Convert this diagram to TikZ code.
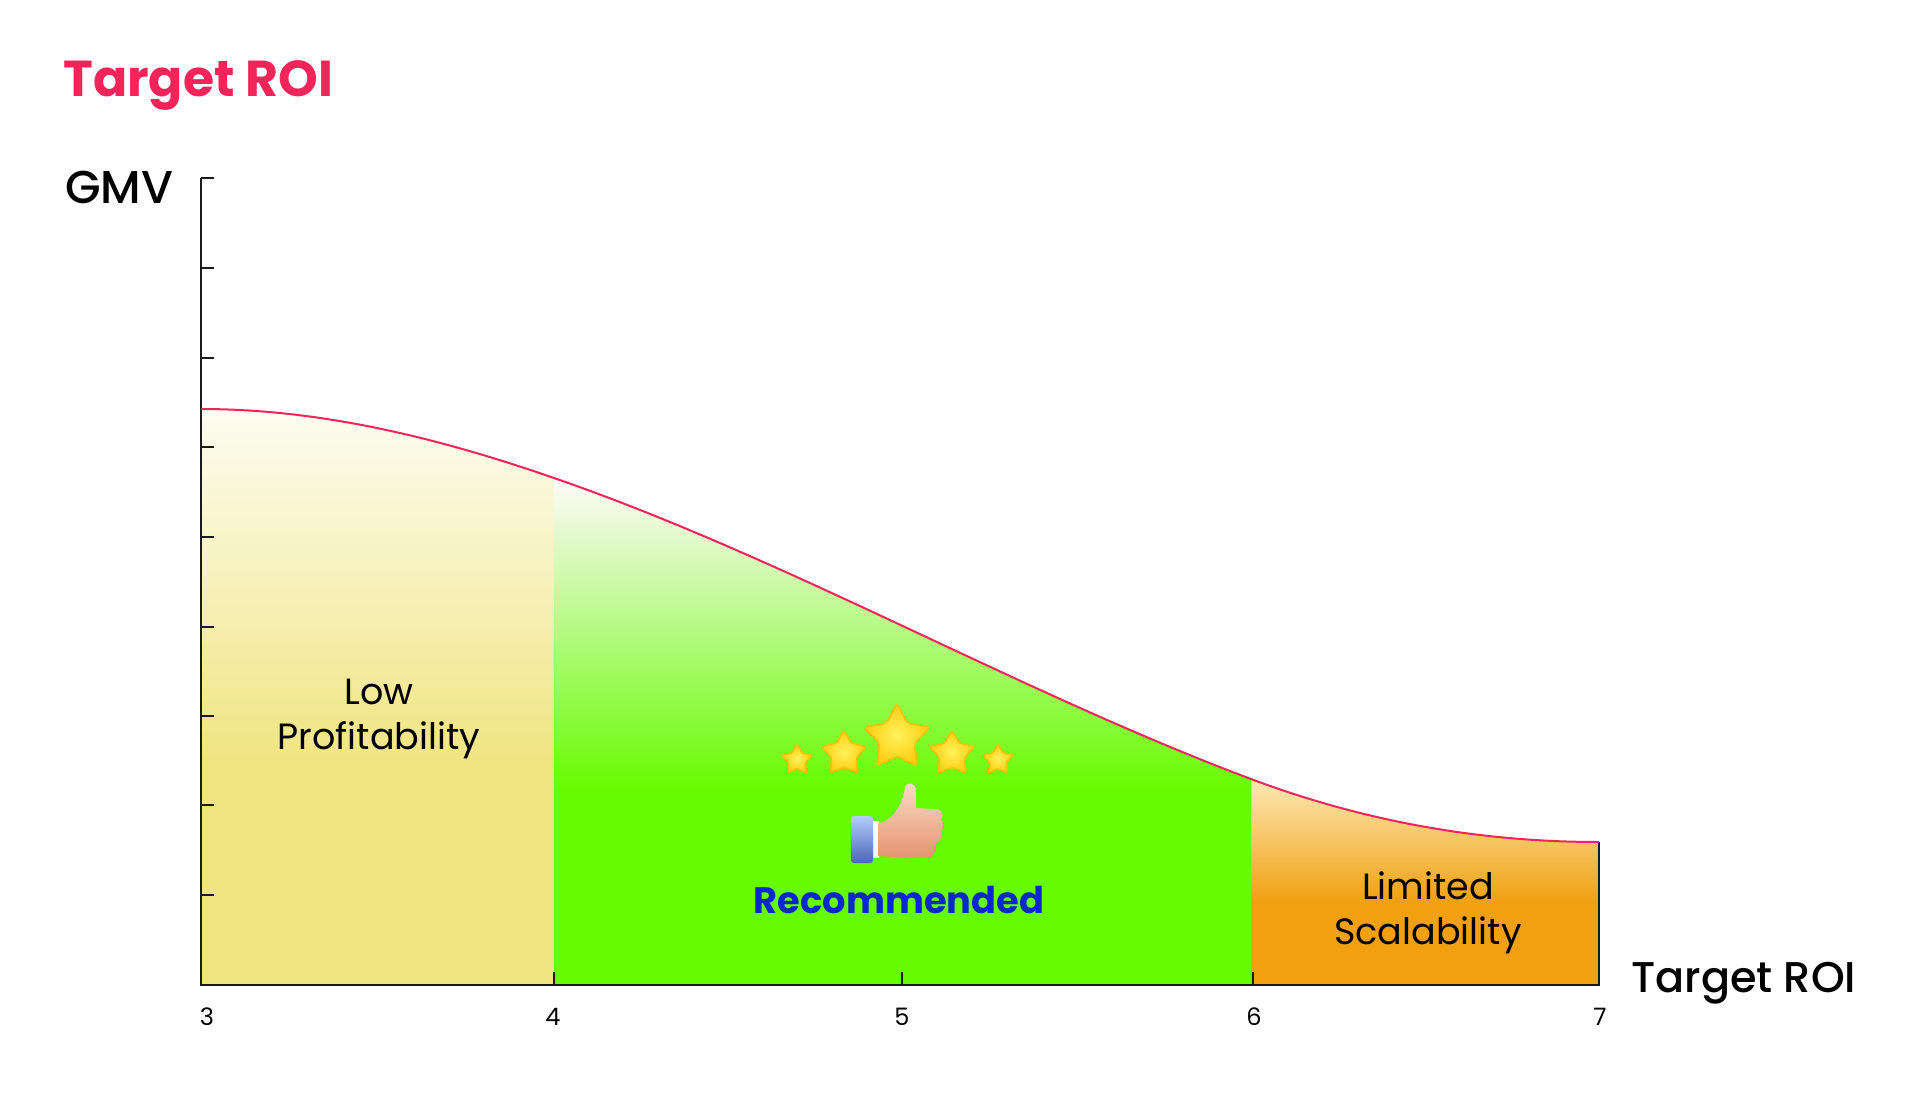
\documentclass[tikz,border=0pt]{standalone}
\usepackage{fontspec}
\setmainfont{Poppins}
\newfontfamily\labelfont{Poppins Medium}
\usepackage{tikz}
\usetikzlibrary{calc, positioning, shapes.geometric}
\definecolor{roired}{HTML}{F2245A}
\definecolor{lowbase}{HTML}{F0E480}
\definecolor{lowtop}{HTML}{FDFDF2}
\definecolor{recbase}{HTML}{66FB00}
\definecolor{rectop}{HTML}{FFFAFA}
\definecolor{limbase}{HTML}{F0A010}
\definecolor{limtop}{HTML}{FCE9B5}
\definecolor{recblue}{HTML}{0A28D0}
\definecolor{axisblack}{HTML}{1A1A1A}
\definecolor{starin}{HTML}{FFF25A}
\definecolor{starout}{HTML}{FFCB0E}
\definecolor{staredge}{HTML}{FFC008}
\definecolor{skintop}{HTML}{FBDCC6}
\definecolor{skinbottom}{HTML}{E59472}
\definecolor{cufftop}{HTML}{B4CEFB}
\definecolor{cuffbottom}{HTML}{4A66B8}
\pgfdeclareverticalshading{lowfade}{100bp}{color(0bp)=(lowbase); color(44bp)=(lowbase); color(75bp)=(lowtop); color(100bp)=(lowtop)}
\pgfdeclareverticalshading{recfade}{100bp}{color(0bp)=(recbase); color(44bp)=(recbase); color(75bp)=(rectop); color(100bp)=(rectop)}
\pgfdeclareverticalshading{limfade}{100bp}{color(0bp)=(limbase); color(45bp)=(limbase); color(75bp)=(limtop); color(100bp)=(limtop)}

\begin{document}
\begin{tikzpicture}[x=1pt,y=-1pt]
	\tikzstyle{axis} = [draw=axisblack, line width=2pt];
	\tikzstyle{tick} = [draw=axisblack, line width=1.8pt];
	\tikzstyle{curve} = [draw=roired, line width=2pt];
	\tikzstyle{head} = [anchor=base west, inner sep=0pt, font=\fontsize{50.5}{50}\selectfont\bfseries, text=roired];
	\tikzstyle{axislabel} = [anchor=base west, inner sep=0pt, font=\fontsize{43}{43}\labelfont];
	\tikzstyle{zone} = [align=center, inner sep=0pt, font=\fontsize{36.5}{45}\selectfont];
	\tikzstyle{num} = [anchor=base, inner sep=0pt, font=\fontsize{24}{24}\selectfont];
	\tikzstyle{goldstar} = [star, star points=5, star point ratio=1.95, inner sep=0pt, rounded corners=4pt, draw=staredge, line width=1.5pt, inner color=starin, outer color=starout];
	
	\useasboundingbox (0,0) rectangle (1920,1096);
	
	% coloured zones under the curve
	\shade [shading=lowfade] (201,985) -- (201,409) .. controls (319,409) and (436,437) .. (554,478) -- (554,985) -- cycle;
	\shade [shading=recfade] (554,985) -- (554,478) .. controls (786,558) and (1019,692) .. (1251,779) -- (1251,985) -- cycle;
	\shade [shading=limfade] (1251,985) -- (1251,779) .. controls (1367,822.5) and (1483,842) .. (1599,842) -- (1599,985) -- cycle;
	
	% axes
	\path [axis] (201,178) -- (201,985) -- (1599,985) -- (1599,842);
	
	% vertical ticks
	\path [tick] (201,178) -- +(13,0);
	\path [tick] (201,268) -- +(13,0);
	\path [tick] (201,358) -- +(13,0);
	\path [tick] (201,447) -- +(13,0);
	\path [tick] (201,537) -- +(13,0);
	\path [tick] (201,627) -- +(13,0);
	\path [tick] (201,716) -- +(13,0);
	\path [tick] (201,805) -- +(13,0);
	\path [tick] (201,895) -- +(13,0);
	
	% horizontal ticks
	\path [tick] (554,985) -- +(0,-13);
	\path [tick] (902,985) -- +(0,-13);
	\path [tick] (1253,985) -- +(0,-13);
	
	% the curve
	\path [curve] (201,409) .. controls (319,409) and (436,437) .. (554,478) .. controls (786,558) and (1019,692) .. (1251,779) .. controls (1367,822.5) and (1483,842) .. (1599,842);
	
	% titles
	\node [head] (title) at (63,96) {Target ROI};
	\node [axislabel, font=\fontsize{46}{46}\labelfont] (ylabel) at (65,203) {GMV};
	\node [axislabel] (xlabel) at (1631,992) {Target ROI};
	
	% numbers
	\node [num] (n3) at (207,1025) {3};
	\node [num] (n4) at (553,1025) {4};
	\node [num] (n5) at (902,1025) {5};
	\node [num] (n6) at (1254,1025) {6};
	\node [num] (n7) at (1600,1025) {7};
	
	% zone labels
	\node [zone] (low) at (379,719) {Low\\Profitability};
	\node [zone] (limited) at (1428,913) {Limited\\Scalability};
	\node [anchor=base, inner sep=0pt, font=\fontsize{36.8}{38}\selectfont\bfseries, text=recblue] (rec) at (899,913.5) {Recommended};
	
	% stars
	\node [goldstar, minimum size=70pt] (star3) at (897,738) {};
	\node [goldstar, minimum size=49pt] (star2) at (844,754) {};
	\node [goldstar, minimum size=49pt] (star4) at (952,754) {};
	\node [goldstar, minimum size=33pt, rounded corners=2.5pt] (star1) at (797,760) {};
	\node [goldstar, minimum size=33pt, rounded corners=2.5pt] (star5) at (998,760) {};
	
	% thumb
	\shade [top color=white, bottom color=blue!5!white] (871,821) rectangle (879,857);
	\shade [top color=skintop, bottom color=skinbottom] (878,823) .. controls (890,823) and (903,805) .. (905,787) .. controls (906,782) and (915,782) .. (916,790) -- (916,808) -- (936,809) .. controls (943,809) and (944,817) .. (941,820) .. controls (944,822) and (944,828) .. (941,831) .. controls (943,834) and (942,841) .. (935,844) .. controls (936,851) and (934,857) .. (928,858) .. controls (912,858) and (895,857) .. (878,856) -- cycle;
	\shade [top color=cufftop, bottom color=cuffbottom, rounded corners=3pt] (851,816) rectangle (873,863);
\end{tikzpicture}
\end{document}
